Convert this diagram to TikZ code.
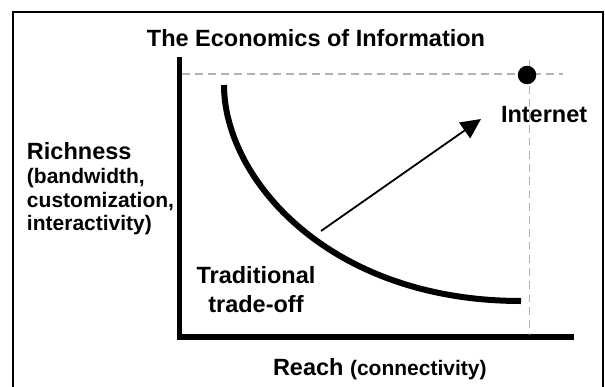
\documentclass[tikz,border=0pt]{standalone}
\usepackage{fontspec}
\setmainfont{Liberation Sans}
\usetikzlibrary{arrows.meta}
\tikzset{
  big/.style={font=\fontsize{23.5}{26}\selectfont\bfseries, inner sep=0pt, outer sep=0pt},
  small/.style={font=\fontsize{21}{24}\selectfont\bfseries, inner sep=0pt, outer sep=0pt},
  guide/.style={draw=black!30, line width=1.5pt, dash pattern=on 8pt off 5pt},
  axisline/.style={line width=5.5pt, line join=miter},
  tradeoff/.style={line width=6pt},
  movearrow/.style={-{Triangle[length=20pt,width=19pt]}, line width=1.8pt},
  framebox/.style={line width=2pt}
}
\begin{document}
\begin{tikzpicture}[x=1pt,y=-1pt]
\useasboundingbox (0,0) rectangle (605,386);
% frame
\draw[framebox] (12.7,390) -- (12.7,12) -- (602.5,12) -- (602.5,390);
% title
\node[big, anchor=base] (title) at (316,46) {The Economics of Information};
% axes
\coordinate (ytop) at (179.3,57);
\coordinate (origin) at (179.3,337);
\coordinate (xend) at (574.3,337);
\draw[axisline] (ytop) -- (origin) -- (xend);
% guides
\coordinate (hg1) at (182,74);
\coordinate (hg2) at (563,74);
\coordinate (vg1) at (529.3,60);
\coordinate (vg2) at (529.3,335);
\draw[guide] (hg1) -- (hg2);
\draw[guide] (vg1) -- (vg2);
% internet point
\node[circle, fill=black, minimum size=18.5pt, inner sep=0pt] (dot) at (527,75) {};
\node[big, anchor=base west] (internet) at (501,122) {Internet};
% trade-off curve
\coordinate (c1) at (224,85);
\coordinate (c2) at (521,301);
\draw[tradeoff] (c1) .. controls (224,178) and (328,301) .. (c2);
% arrow
\coordinate (a1) at (321,231);
\coordinate (a2) at (481,119);
\draw[movearrow] (a1) -- (a2);
% labels
\node[big, anchor=base west] (rich1) at (27,159) {Richness};
\node[small, anchor=base west] (rich2) at (27,183) {(bandwidth,};
\node[small, anchor=base west] (rich3) at (27,207) {customization,};
\node[small, anchor=base west] (rich4) at (27,230) {interactivity)};
\node[big, anchor=base] (trad1) at (256,283) {Traditional};
\node[big, anchor=base] (trad2) at (256,312) {trade-off};
\node[big, anchor=base west] (reach) at (273,375) {Reach \fontsize{21}{24}\selectfont(connectivity)};
\end{tikzpicture}
\end{document}
